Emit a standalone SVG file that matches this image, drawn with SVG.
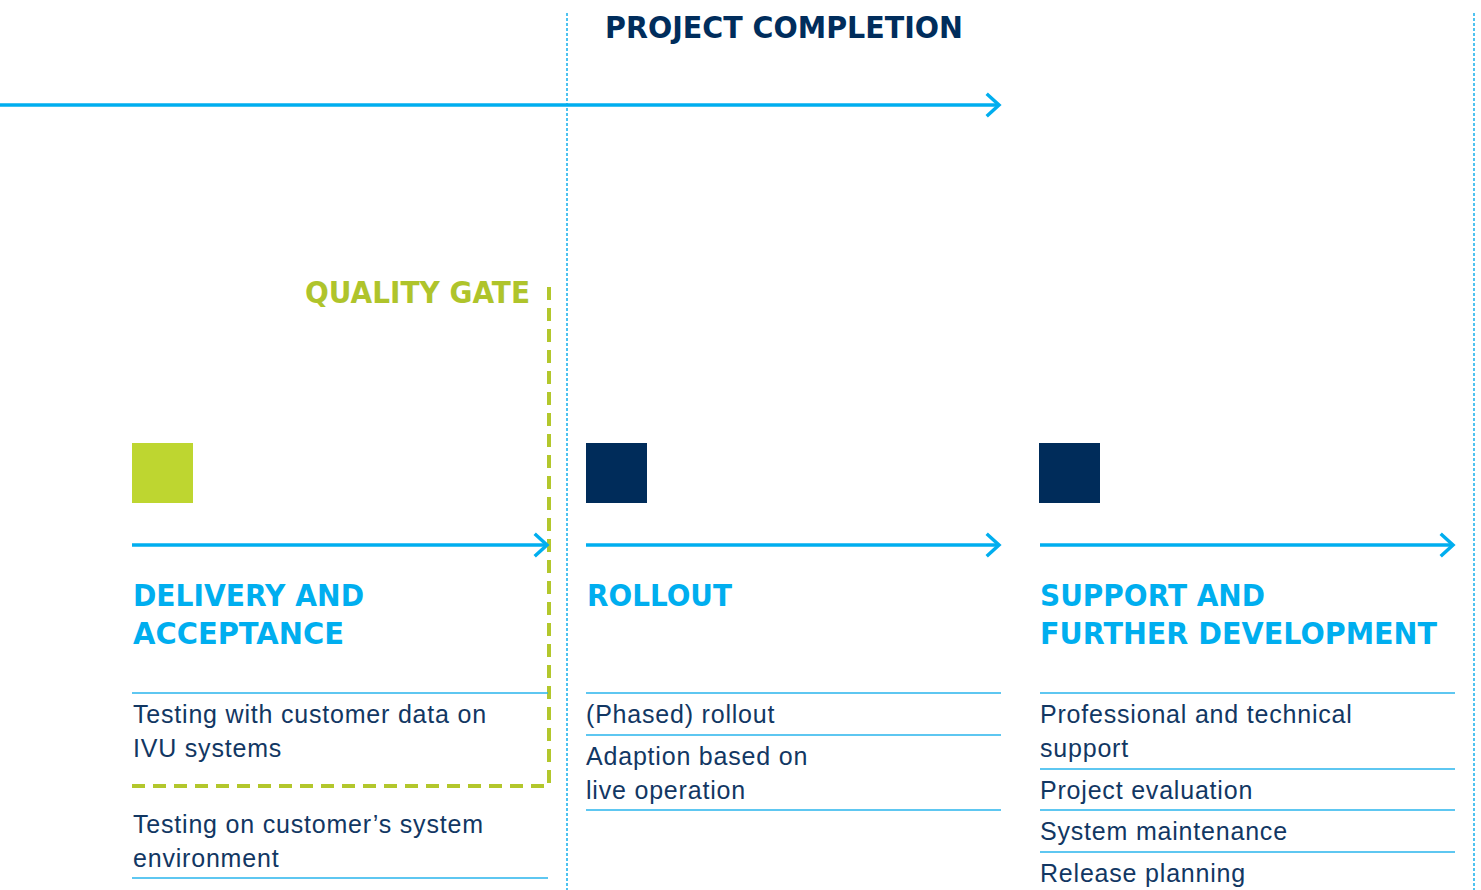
<svg xmlns="http://www.w3.org/2000/svg" width="1481" height="890" viewBox="0 0 1481 890">
<defs>
<style>
.dot{stroke:#4FC3F0;stroke-width:2;stroke-dasharray:3 2;fill:none}
.arr{stroke:#00AEEF;stroke-width:3.5;fill:none}
.head{stroke:#00AEEF;stroke-width:3.5;fill:none;stroke-linecap:square}
.sep{stroke:#29B5EC;stroke-width:1.5}
.gate{stroke:#B3C72C;stroke-width:4;stroke-dasharray:13 8;fill:none}
.h{font-family:"DejaVu Sans","Liberation Sans",sans-serif;font-weight:bold;font-size:30px;fill:#00AEEF}
.t{font-family:"Liberation Sans",Arial,sans-serif;font-size:25px;fill:#123763;letter-spacing:0.8px}
.title{font-family:"DejaVu Sans","Liberation Sans",sans-serif;font-weight:bold;font-size:30px;fill:#002D5C}
.qg{font-family:"DejaVu Sans","Liberation Sans",sans-serif;font-weight:bold;font-size:30px;fill:#AFC42B}
</style>
</defs>
<rect width="1481" height="890" fill="#FFFFFF"/>
<g id="connectors">
<line class="dot" x1="567" y1="13" x2="567" y2="890"/>
<line class="dot" x1="1474" y1="13" x2="1474" y2="890"/>
<line class="arr" x1="0" y1="105" x2="999" y2="105"/>
<polyline class="head" points="988,95 999,105 988,115"/>
<polyline class="gate" points="132,786 549,786 549,280"/>
</g>
<g id="title">
<text class="title" x="605" y="38" textLength="358" lengthAdjust="spacingAndGlyphs">PROJECT COMPLETION</text>
</g>
<g id="quality-gate">
<text class="qg" x="305" y="303" textLength="225" lengthAdjust="spacingAndGlyphs">QUALITY GATE</text>
</g>
<g id="delivery">
<rect x="132" y="443" width="61" height="60" fill="#BED630"/>
<line class="arr" x1="132" y1="545" x2="547" y2="545"/>
<polyline class="head" points="536,535 547,545 536,555"/>
<text class="h" x="133" y="606" textLength="231" lengthAdjust="spacingAndGlyphs">DELIVERY AND</text>
<text class="h" x="133" y="644" textLength="211" lengthAdjust="spacingAndGlyphs">ACCEPTANCE</text>
<line class="sep" x1="132" y1="693" x2="548" y2="693"/>
<text class="t" x="133" y="723">Testing with customer data on</text>
<text class="t" x="133" y="757">IVU systems</text>
<text class="t" x="133" y="833">Testing on customer’s system</text>
<text class="t" x="133" y="867">environment</text>
<line class="sep" x1="132" y1="878" x2="548" y2="878"/>
</g>
<g id="rollout">
<rect x="586" y="443" width="61" height="60" fill="#002C5A"/>
<line class="arr" x1="586" y1="545" x2="999" y2="545"/>
<polyline class="head" points="988,535 999,545 988,555"/>
<text class="h" x="587" y="606" textLength="145" lengthAdjust="spacingAndGlyphs">ROLLOUT</text>
<line class="sep" x1="586" y1="693" x2="1001" y2="693"/>
<text class="t" x="586" y="723">(Phased) rollout</text>
<line class="sep" x1="586" y1="735" x2="1001" y2="735"/>
<text class="t" x="586" y="765">Adaption based on</text>
<text class="t" x="586" y="799">live operation</text>
<line class="sep" x1="586" y1="810" x2="1001" y2="810"/>
</g>
<g id="support">
<rect x="1039" y="443" width="61" height="60" fill="#002C5A"/>
<line class="arr" x1="1040" y1="545" x2="1453" y2="545"/>
<polyline class="head" points="1442,535 1453,545 1442,555"/>
<text class="h" x="1040" y="606" textLength="225" lengthAdjust="spacingAndGlyphs">SUPPORT AND</text>
<text class="h" x="1040" y="644" textLength="397" lengthAdjust="spacingAndGlyphs">FURTHER DEVELOPMENT</text>
<line class="sep" x1="1040" y1="693" x2="1455" y2="693"/>
<text class="t" x="1040" y="723">Professional and technical</text>
<text class="t" x="1040" y="757">support</text>
<line class="sep" x1="1040" y1="769" x2="1455" y2="769"/>
<text class="t" x="1040" y="799">Project evaluation</text>
<line class="sep" x1="1040" y1="810" x2="1455" y2="810"/>
<text class="t" x="1040" y="840">System maintenance</text>
<line class="sep" x1="1040" y1="852" x2="1455" y2="852"/>
<text class="t" x="1040" y="882">Release planning</text>
</g>
</svg>
